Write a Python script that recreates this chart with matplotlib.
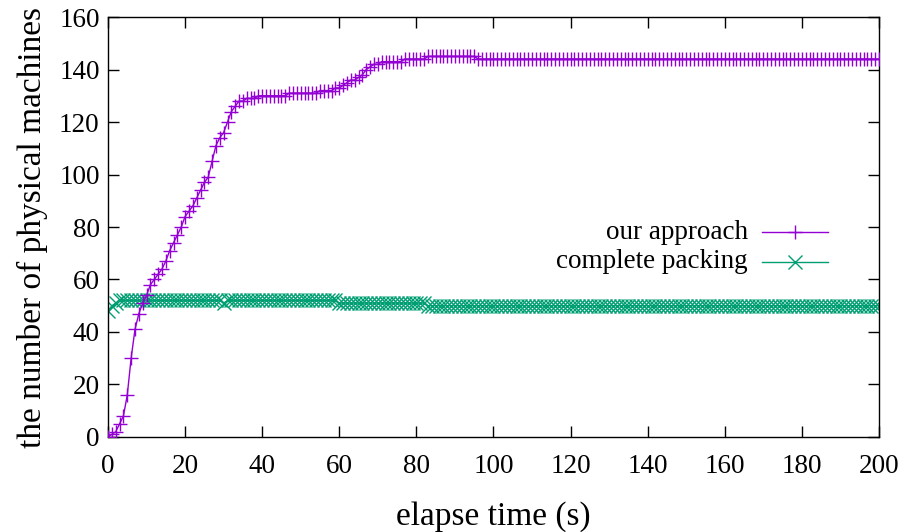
import numpy as np
import matplotlib
matplotlib.use('Agg')
import matplotlib.pyplot as plt

plt.rcParams['font.family'] = ['Liberation Serif', 'DejaVu Serif']

# elapse time, one sample per second
elapse_time = np.arange(0, 201)

# our approach: number of physical machines
our_approach = (
    [0, 1, 2, 5, 8, 16, 30, 41, 47, 51,
     54, 58, 60, 62, 64, 67, 71, 74, 77, 80,
     84, 86, 88, 91, 94, 97, 99, 105, 111, 114,
     116, 120, 124, 126, 128, 128, 129, 129, 129, 130]
    + [130] * 7
    + [131] * 8
    + [132] * 4
    + [133, 133, 134, 135, 136, 136, 137, 138, 140, 141, 142, 142]
    + [143] * 6
    + [144] * 6
    + [145] * 13
    + [144] * 105
)

# complete packing
complete_packing = (
    [48, 50, 51]
    + [52] * 27
    + [51]
    + [52] * 29
    + [51] * 23
    + [50] * 118
)

labels = ['our approach', 'complete packing']
purple = '#9400d3'
green = '#009e73'

fig, ax = plt.subplots(figsize=(9.06, 5.32), dpi=100)
fig.subplots_adjust(left=0.1192, right=0.9702, top=0.968, bottom=0.1786)

ax.plot(elapse_time, our_approach, color=purple, lw=1.0, marker='+',
        ms=10.5, mew=1.0, zorder=3)
ax.plot(elapse_time, complete_packing, color=green, lw=1.0, marker='x',
        ms=9.5, mew=1.0, zorder=2)

ax.set_xlim(0, 200)
ax.set_ylim(0, 160)
ax.set_xticks(np.arange(0, 201, 20))
ax.set_yticks(np.arange(0, 161, 20))
ax.tick_params(direction='in', length=8, width=1, top=True, right=True,
               labelsize=19.5)
ax.tick_params(axis='x', pad=12)
ax.tick_params(axis='y', pad=6)
for s in ax.spines.values():
    s.set_linewidth(1.0)

ax.set_xlabel('elapse time (s)', fontsize=24, labelpad=16)
ax.set_ylabel('the number of physical machines', fontsize=24, labelpad=8)

# gnuplot style key: right aligned text, sample to the right
key_rows = [0.488, 0.417]
for label, color, mk, ms, y in zip(labels, [purple, green], ['+', 'x'],
                                   [10.5, 9.5], key_rows):
    ax.text(0.830, y, label, transform=ax.transAxes, ha='right',
            va='center', fontsize=19.5)
    ax.plot([0.848, 0.891, 0.934], [y, y, y], transform=ax.transAxes,
            color=color, lw=1.0, marker=mk, ms=ms, mew=1.0, markevery=[1],
            clip_on=False)

fig.savefig('out.png', dpi=100)
